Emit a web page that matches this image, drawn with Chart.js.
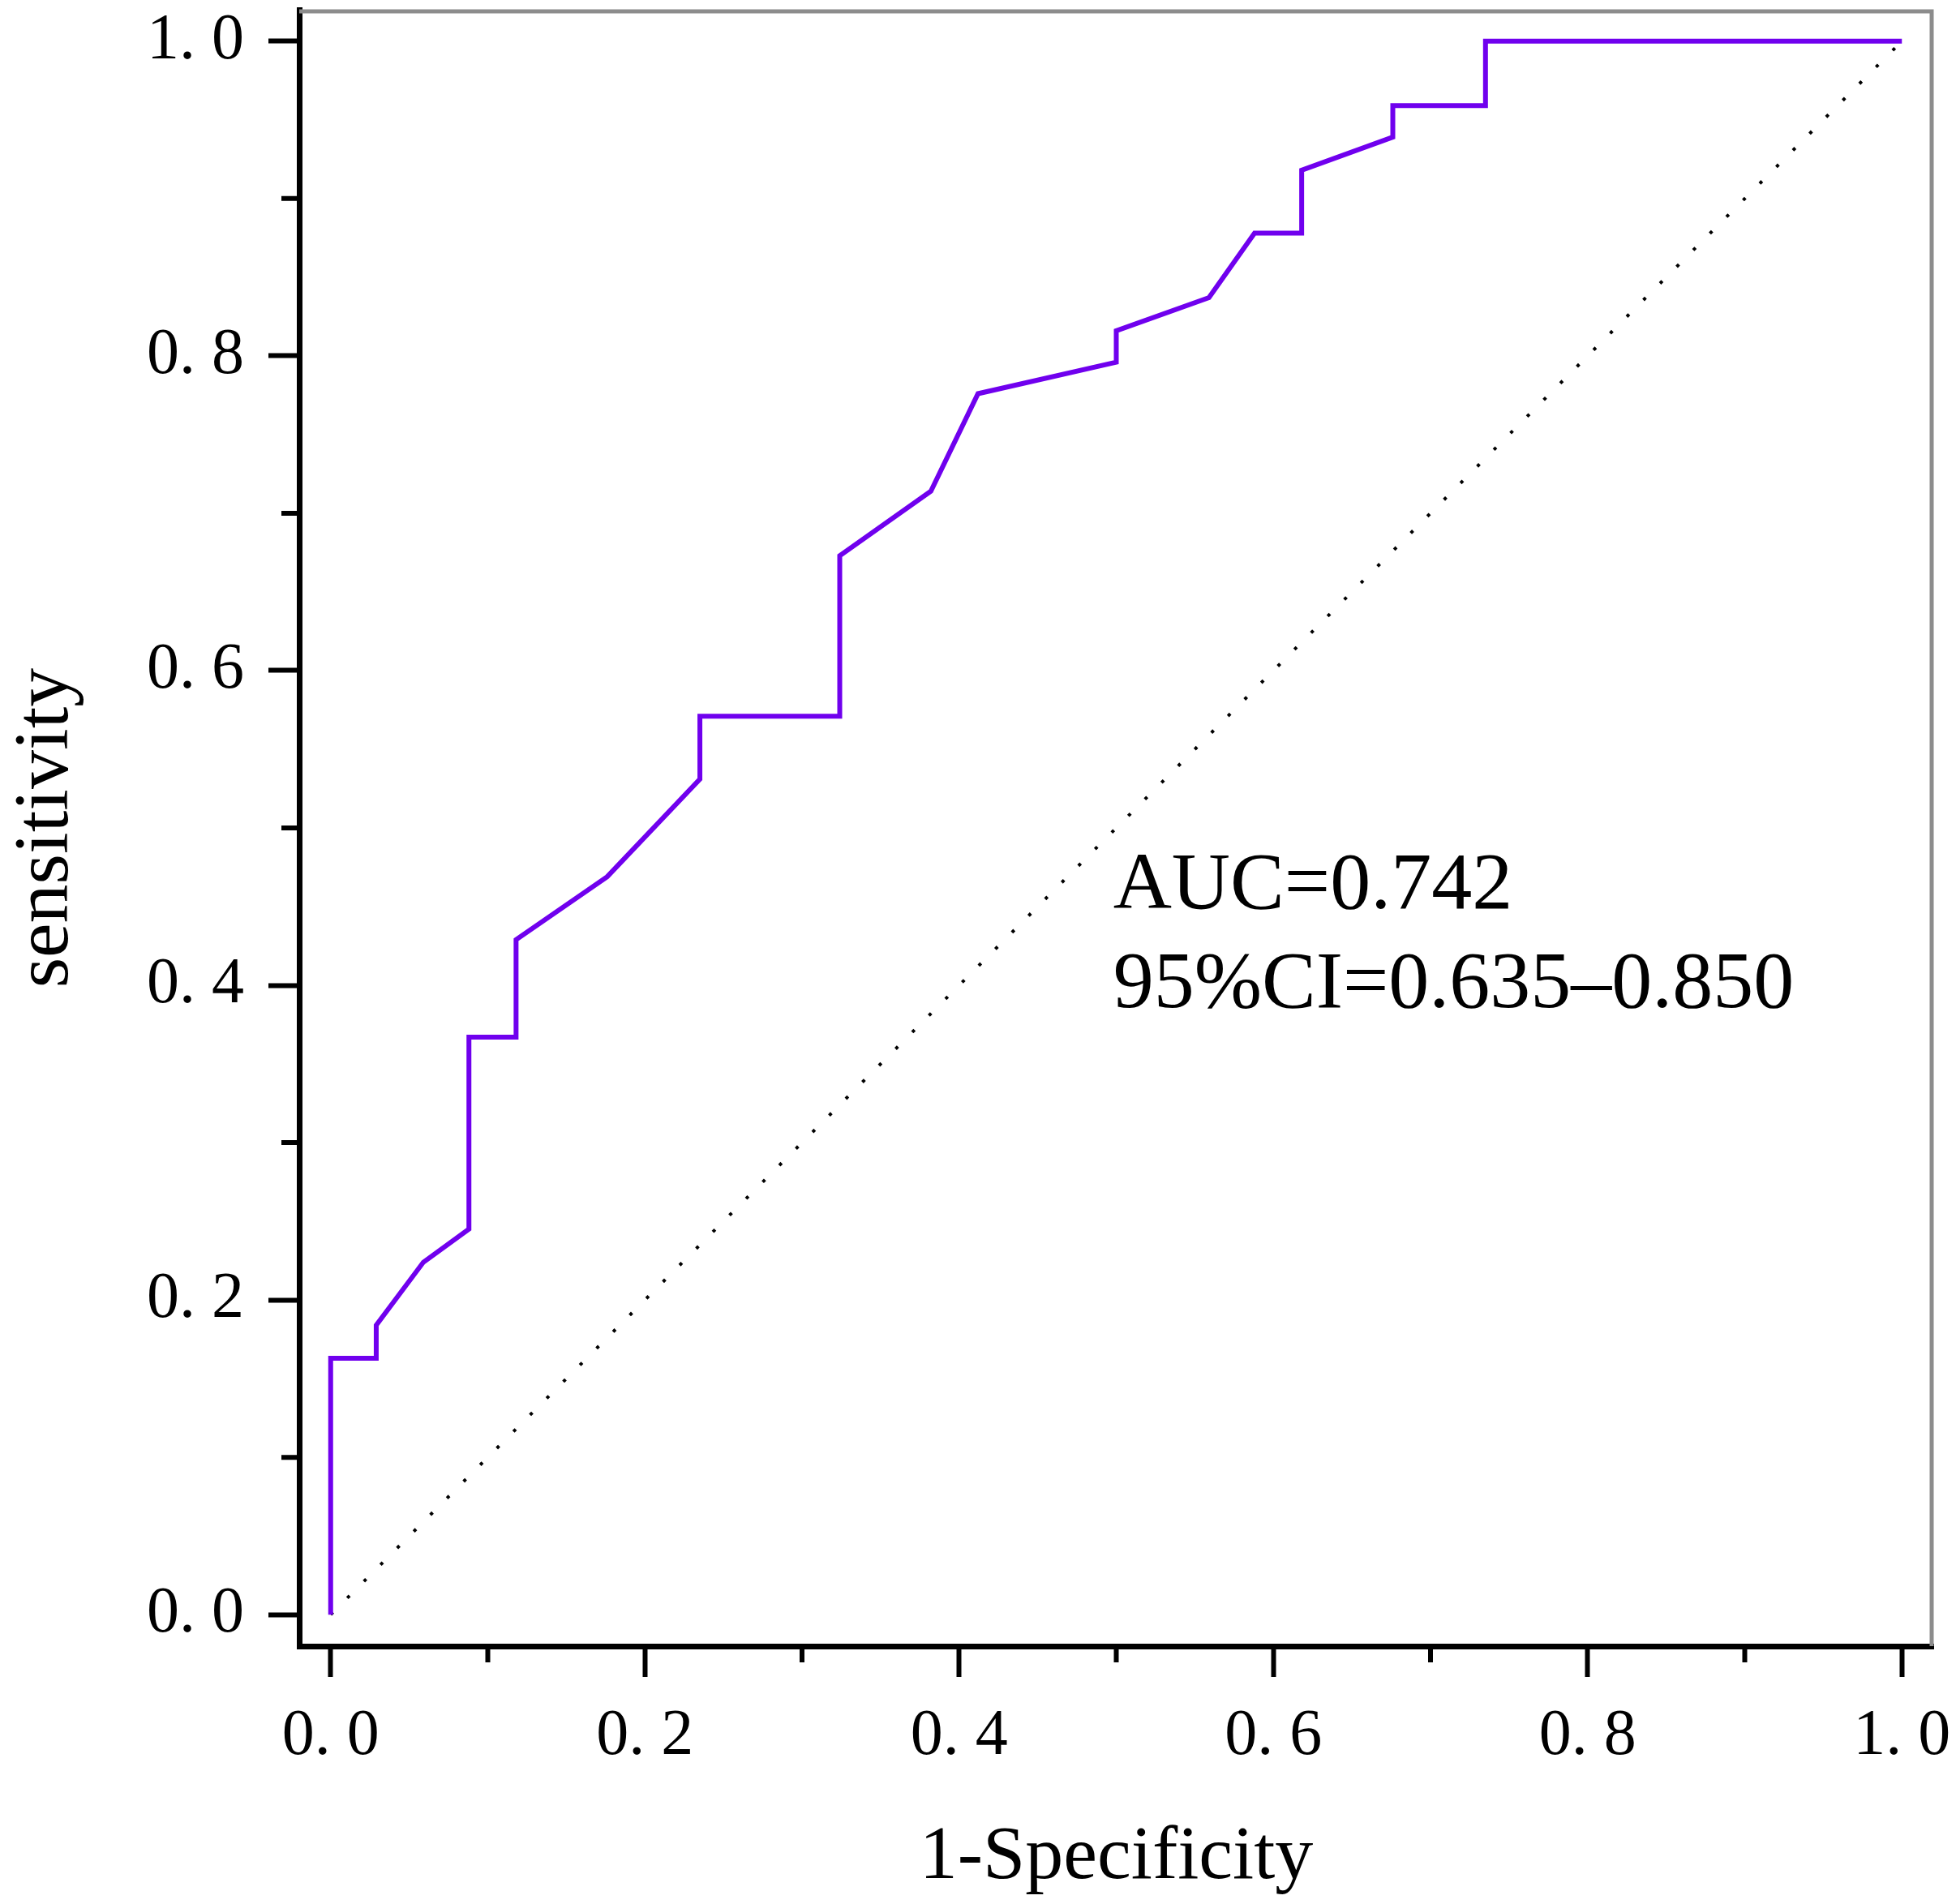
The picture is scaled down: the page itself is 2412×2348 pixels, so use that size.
<!DOCTYPE html>
<html>
<head>
<meta charset="utf-8">
<script src="https://cdn.jsdelivr.net/npm/chart.js@4"></script>
<style>
  html, body { margin: 0; padding: 0; background: #fff; }
  #wrap { width: 2412px; height: 2348px; }
</style>
</head>
<body>
<div id="wrap"><canvas id="myChart" width="2412" height="2348"></canvas></div>
<script>
// ROC curve
const fpr = [0, 0, 0.029, 0.029, 0.059, 0.088, 0.088, 0.118, 0.118, 0.176, 0.235, 0.235, 0.324, 0.324, 0.382, 0.412, 0.5, 0.5, 0.559, 0.588, 0.618, 0.618, 0.676, 0.676, 0.735, 0.735, 1.0]
const tpr = [0, 0.163, 0.163, 0.184, 0.224, 0.245, 0.367, 0.367, 0.429, 0.469, 0.531, 0.571, 0.571, 0.673, 0.714, 0.776, 0.796, 0.816, 0.837, 0.878, 0.878, 0.918, 0.939, 0.959, 0.959, 1.0, 1.0]
const refX = [0, 1]
const refY = [0, 1]
const xTicks = [0, 0.1, 0.2, 0.3, 0.4, 0.5, 0.6, 0.7, 0.8, 0.9, 1.0]
const yTicks = [0, 0.1, 0.2, 0.3, 0.4, 0.5, 0.6, 0.7, 0.8, 0.9, 1.0]
const aucText = ['AUC=0.742', '95%CI=0.635\u20130.850']

const serif = '"Liberation Serif", "DejaVu Serif", serif'
const ctx = document.getElementById('myChart')

const isMajor = v => Math.abs(v * 10 - Math.round(v * 5) * 2) < 1e-6
const fmt = v => v.toFixed(1).replace('.', '. ')

// grey frame on top/right, short minor ticks, AUC text
const extras = {
    id: 'extras',
    afterDraw(chart) {
        const c = chart.ctx
        const a = chart.chartArea
        const xs = chart.scales.x, ys = chart.scales.y
        c.save()
        c.strokeStyle = '#8c8c8c'
        c.lineWidth = 5
        c.beginPath()
        c.moveTo(a.left, a.top + 2)
        c.lineTo(a.right - 2, a.top + 2)
        c.lineTo(a.right - 2, a.bottom)
        c.stroke()
        c.strokeStyle = '#000'
        c.lineWidth = 6
        c.beginPath()
        for (const v of yTicks) {
            if (isMajor(v)) continue
            const py = ys.getPixelForValue(v)
            c.moveTo(a.left - 3, py)
            c.lineTo(a.left - 22, py)
        }
        for (const v of xTicks) {
            if (isMajor(v)) continue
            const px = xs.getPixelForValue(v)
            c.moveTo(px, a.bottom + 3)
            c.lineTo(px, a.bottom + 20)
        }
        c.stroke()
        c.fillStyle = '#000'
        c.font = '100px ' + serif
        c.textBaseline = 'alphabetic'
        c.textAlign = 'left'
        c.fillText(aucText[0], xs.getPixelForValue(0.498), ys.getPixelForValue(0.449))
        c.fillText(aucText[1], xs.getPixelForValue(0.498), ys.getPixelForValue(0.386))
        c.restore()
    }
}

new Chart(ctx, {
    type: 'scatter',
    data: {
        datasets: [
            {
                data: fpr.map((x, i) => ({x: x, y: tpr[i]})),
                showLine: true,
                borderColor: '#7000ee',
                borderWidth: 6,
                pointRadius: 0,
                tension: 0,
                borderJoinStyle: 'miter'
            },
            {
                data: refX.map((x, i) => ({x: x, y: refY[i]})),
                showLine: true,
                borderColor: '#000',
                borderWidth: 4,
                borderDash: [4, 25],
                pointRadius: 0
            }
        ]
    },
    options: {
        responsive: false,
        animation: false,
        devicePixelRatio: 1,
        layout: { padding: { left: 0, right: 28, top: 12, bottom: 0 } },
        plugins: { legend: { display: false }, tooltip: { enabled: false } },
        scales: {
            x: {
                type: 'linear',
                min: -0.02, max: 1.02,
                afterBuildTicks: s => { s.ticks = xTicks.map(v => ({value: v})) },
                afterFit: s => { s.height = 318; s.paddingLeft = 0; s.paddingRight = 0 },
                border: { color: '#000', width: 7 },
                grid: {
                    drawOnChartArea: false,
                    tickLength: 38,
                    tickWidth: 6,
                    tickColor: c => isMajor(c.tick.value) ? '#000' : 'rgba(0,0,0,0)'
                },
                ticks: {
                    autoSkip: false,
                    maxRotation: 0,
                    padding: 26,
                    color: '#000',
                    font: { family: serif, size: 80 },
                    callback: v => isMajor(v) ? fmt(v) : ''
                },
                title: {
                    display: true,
                    text: '1-Specificity',
                    color: '#000',
                    font: { family: serif, size: 94 },
                    padding: { top: 50, bottom: 0 }
                }
            },
            y: {
                type: 'linear',
                min: -0.02, max: 1.02,
                afterBuildTicks: s => { s.ticks = yTicks.map(v => ({value: v})) },
                afterFit: s => { s.width = 369; s.paddingTop = 0; s.paddingBottom = 0 },
                border: { color: '#000', width: 7 },
                grid: {
                    drawOnChartArea: false,
                    tickLength: 38,
                    tickWidth: 6,
                    tickColor: c => isMajor(c.tick.value) ? '#000' : 'rgba(0,0,0,0)'
                },
                ticks: {
                    autoSkip: false,
                    padding: 30,
                    color: '#000',
                    font: { family: serif, size: 80 },
                    callback: v => isMajor(v) ? fmt(v) : ''
                },
                title: {
                    display: true,
                    text: 'sensitivity',
                    color: '#000',
                    font: { family: serif, size: 96 },
                    padding: { top: 0, bottom: 0 }
                }
            }
        }
    },
    plugins: [extras]
})
</script>
</body>
</html>
